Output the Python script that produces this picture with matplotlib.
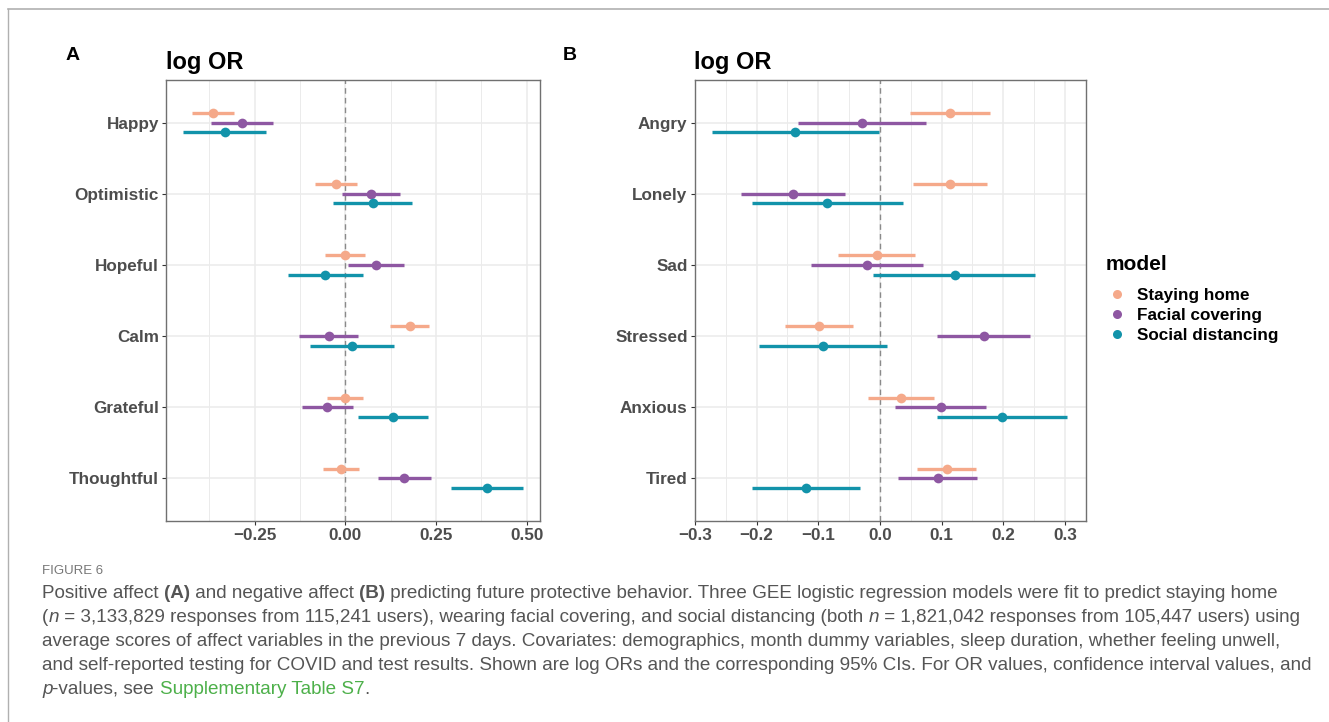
import matplotlib
matplotlib.use("Agg")
import matplotlib.pyplot as plt
from matplotlib.lines import Line2D
import numpy as np

plt.rcParams['font.family'] = ['Liberation Sans', 'DejaVu Sans']

# ---------------- data ----------------
models = ["Staying home", "Facial covering", "Social distancing"]
colors = ["#F5A98A", "#8E57A2", "#1293AA"]

pos_labels = ["Happy", "Optimistic", "Hopeful", "Calm", "Grateful", "Thoughtful"]
pos_est = [[-0.366, -0.027, 0.000, 0.178, -0.001, -0.012],
           [-0.286, 0.070, 0.085, -0.046, -0.051, 0.163],
           [-0.332, 0.075, -0.056, 0.018, 0.132, 0.391]]
pos_lo = [[-0.424, -0.085, -0.055, 0.123, -0.052, -0.061],
          [-0.371, -0.010, 0.008, -0.127, -0.121, 0.090],
          [-0.449, -0.033, -0.159, -0.098, 0.036, 0.291]]
pos_hi = [[-0.308, 0.033, 0.054, 0.232, 0.049, 0.037],
          [-0.200, 0.151, 0.162, 0.034, 0.020, 0.235],
          [-0.218, 0.185, 0.049, 0.135, 0.228, 0.490]]

neg_labels = ["Angry", "Lonely", "Sad", "Stressed", "Anxious", "Tired"]
neg_est = [[0.114, 0.114, -0.005, -0.099, 0.034, 0.108],
           [-0.029, -0.141, -0.021, 0.168, 0.099, 0.094],
           [-0.137, -0.085, 0.121, -0.092, 0.198, -0.120]]
neg_lo = [[0.049, 0.054, -0.068, -0.154, -0.019, 0.060],
          [-0.132, -0.225, -0.112, 0.092, 0.024, 0.030],
          [-0.272, -0.207, -0.011, -0.196, 0.092, -0.208]]
neg_hi = [[0.178, 0.174, 0.057, -0.044, 0.088, 0.155],
          [0.075, -0.056, 0.070, 0.243, 0.172, 0.158],
          [-0.002, 0.038, 0.252, 0.012, 0.304, -0.032]]

pos_xticks = [-0.25, 0.0, 0.25, 0.50]
pos_xticklabels = ["\u22120.25", "0.00", "0.25", "0.50"]
neg_xticks = [-0.3, -0.2, -0.1, 0.0, 0.1, 0.2, 0.3]
neg_xticklabels = ["\u22120.3", "\u22120.2", "\u22120.1", "0.0", "0.1", "0.2", "0.3"]

# ---------------- figure ----------------
W, H = 1329, 722
fig = plt.figure(figsize=(W / 100, H / 100), dpi=100)
fig.patch.set_facecolor("white")


def fx(px):
    return px / W


def fy(py):
    return 1 - py / H


# outer frame lines (top and left)
fig.add_artist(Line2D([fx(7.5), 1], [fy(9), fy(9)], color="#B0B0B0", lw=1.2))
fig.add_artist(Line2D([fx(7.5), fx(7.5)], [fy(9), 0], color="#B0B0B0", lw=1.0))

tick_col = "#4D4D4D"
dodge = 0.135


def panel(ax, labels, est, lo, hi, xticks, xticklabels, xlim, minor):
    n = len(labels)
    y = np.arange(n)
    offs = [-dodge, 0.0, dodge]
    ax.axvline(0, color="#8A8A8A", lw=1.0, ls=(0, (4, 3)), zorder=2)
    for k in range(3):
        yy = y + offs[k]
        ax.hlines(yy, lo[k], hi[k], color=colors[k], lw=2.4, zorder=3)
        ax.plot(est[k], yy, "o", color=colors[k], ms=7.0, mec="none", zorder=4)
    ax.set_yticks(y)
    ax.set_yticklabels(labels)
    ax.set_ylim(n - 1 + 0.6, -0.6)
    ax.set_xlim(*xlim)
    ax.set_xticks(xticks)
    ax.set_xticklabels(xticklabels)
    ax.set_xticks(minor, minor=True)
    ax.grid(True, which="major", color="#EBEBEB", lw=1.1, zorder=0)
    ax.grid(True, which="minor", axis="x", color="#EBEBEB", lw=0.7, zorder=0)
    ax.set_axisbelow(True)
    for s in ax.spines.values():
        s.set_color("#707070")
        s.set_linewidth(1.0)
    ax.tick_params(axis="both", which="major", length=3, width=0.8, color="#333333",
                   labelcolor=tick_col, labelsize=12.3, pad=2)
    ax.tick_params(axis="both", which="minor", length=0)
    for t in ax.get_xticklabels() + ax.get_yticklabels():
        t.set_fontweight("bold")
    ax.set_title("log OR", loc="left", fontsize=17, fontweight="bold", pad=8, color="black")


axA = fig.add_axes([fx(166), fy(521), fx(540) - fx(166), fy(80) - fy(521)])
panel(axA, pos_labels, pos_est, pos_lo, pos_hi, pos_xticks, pos_xticklabels,
      (-0.495, 0.537), [-0.375, -0.125, 0.125, 0.375])

axB = fig.add_axes([fx(694.5), fy(521), fx(1086) - fx(694.5), fy(80) - fy(521)])
panel(axB, neg_labels, neg_est, neg_lo, neg_hi, neg_xticks, neg_xticklabels,
      (-0.3005, 0.334), [-0.25, -0.15, -0.05, 0.05, 0.15, 0.25])

fig.text(fx(73), fy(56), "A", fontsize=14, fontweight="bold", ha="center", va="center")
fig.text(fx(570), fy(55), "B", fontsize=14, fontweight="bold", ha="center", va="center")

# legend
fig.text(fx(1106), fy(265), "model", fontsize=15, fontweight="bold", ha="left", va="center")
handles = [Line2D([], [], marker="o", ls="none", color=c, ms=6.5, mec="none") for c in colors]
leg = fig.legend(handles, models, loc="upper left",
                 bbox_to_anchor=(fx(1110), fy(288)), frameon=False,
                 handlelength=0.8, handletextpad=0.8, labelspacing=0.3,
                 borderaxespad=0, borderpad=0,
                 prop={"weight": "bold", "size": 12.3})

# caption
cap_col = "#555555"
fig.text(fx(42), fy(571), "FIGURE 6", fontsize=9.5, color="#777777", va="center", ha="left")

cap_lines = [
    [("Positive affect ", "normal", "normal", cap_col), ("(A)", "bold", "normal", cap_col),
     (" and negative affect ", "normal", "normal", cap_col), ("(B)", "bold", "normal", cap_col),
     (" predicting future protective behavior. Three GEE logistic regression models were fit to predict staying home",
      "normal", "normal", cap_col)],
    [("(", "normal", "normal", cap_col), ("n", "normal", "italic", cap_col),
     (" = 3,133,829 responses from 115,241 users), wearing facial covering, and social distancing (both ",
      "normal", "normal", cap_col), ("n", "normal", "italic", cap_col),
     (" = 1,821,042 responses from 105,447 users) using", "normal", "normal", cap_col)],
    [("average scores of affect variables in the previous 7 days. Covariates: demographics, month dummy variables, sleep duration, whether feeling unwell,",
      "normal", "normal", cap_col)],
    [("and self-reported testing for COVID and test results. Shown are log ORs and the corresponding 95% CIs. For OR values, confidence interval values, and",
      "normal", "normal", cap_col)],
    [("p", "normal", "italic", cap_col), ("-values, see ", "normal", "normal", cap_col),
     ("Supplementary Table S7", "normal", "normal", "#4DB04A"), (".", "normal", "normal", cap_col)],
]
cap_y = [593, 617, 641, 665, 689]
cap_fs = 13.6
for line, yy in zip(cap_lines, cap_y):
    prev = None
    for txt, wt, st, col in line:
        if prev is None:
            prev = fig.text(fx(42), fy(yy), txt, fontsize=cap_fs, fontweight=wt, fontstyle=st,
                            color=col, ha="left", va="center")
        else:
            prev = axB.annotate(txt, xy=(1, 0), xycoords=prev, fontsize=cap_fs,
                                fontweight=wt, fontstyle=st, color=col, ha="left", va="bottom",
                                annotation_clip=False)

fig.savefig("out.png", dpi=100, facecolor="white")
